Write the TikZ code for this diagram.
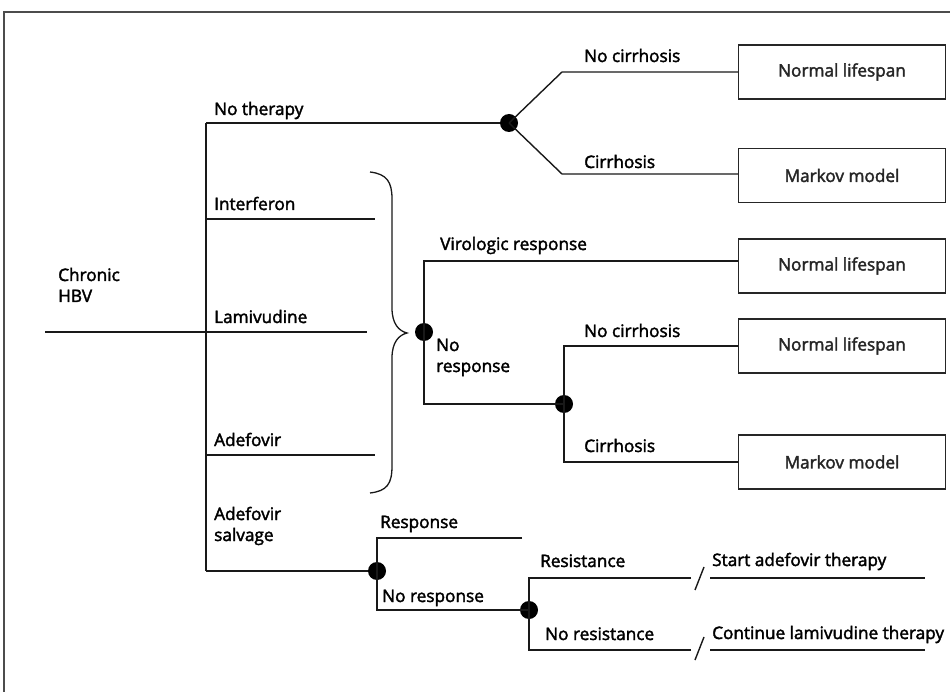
\documentclass[tikz,border=0pt]{standalone}
\usepackage{fontspec}
\setmainfont{Open Sans}[FakeBold=2.2]
\begin{document}
\begin{tikzpicture}[x=1pt,y=-1pt,
  ln/.style={line width=1.4pt,black!90},
  dotn/.style={circle,fill=black,inner sep=0pt,minimum size=18pt},
  outbox/.style={draw,line width=1.4pt,black!85,minimum width=207pt,minimum height=54pt,inner sep=0pt,font=\fontsize{17.2}{21}\selectfont},
  lab/.style={anchor=base west,inner sep=0pt,font=\fontsize{17.2}{21}\selectfont,align=left}]
\useasboundingbox (0,0) rectangle (950,692);
% frame
\draw[line width=1.3pt,black!70] (4,692) -- (4,12) -- (950,12);
% root
\node[lab] (chr) at (58,302) {Chronic\\HBV};
\coordinate (r0) at (45,332);
\coordinate (t0) at (206,332);
\coordinate (ttop) at (206,123);
\coordinate (tbot) at (206,571);
\draw[ln] (r0) -- (t0);
\draw[ln] (ttop) -- (tbot);
% no therapy
\node[dotn] (d1) at (509,123) {};
\draw[ln] (ttop) -- (d1);
\node[lab] (lnt) at (214,115) {No therapy};
\node[outbox] (b1) at (842,72) {Normal lifespan};
\node[outbox] (b2) at (842,175.5) {Markov model};
\coordinate (k1) at (562,72);
\coordinate (k2) at (562,174);
\draw[ln] (d1.center) -- (k1) -- (b1.west |- k1);
\draw[ln] (d1.center) -- (k2) -- (b2.west |- k2);
\node[lab] (lnc1) at (584,62) {No cirrhosis};
\node[lab] (lc1) at (584,168) {Cirrhosis};
% drugs
\coordinate (i0) at (206,219); \coordinate (i1) at (375,219);
\coordinate (l1) at (367,332);
\coordinate (a0) at (206,455); \coordinate (a1) at (375,455);
\draw[ln] (i0) -- (i1);
\draw[ln] (t0) -- (l1);
\draw[ln] (a0) -- (a1);
\node[lab] (lif) at (214,210) {Interferon};
\node[lab] (llm) at (214,323) {Lamivudine};
\node[lab] (lad) at (214,446) {Adefovir};
% brace
\draw[line width=1.3pt,black!90] (370,172) .. controls (387,174) and (392,182) .. (392,199)
  -- (392,308) .. controls (392,324) and (399,331) .. (407,333)
  .. controls (399,335) and (392,342) .. (392,358)
  -- (392,466) .. controls (392,484) and (387,491) .. (370,493);
% response branch
\node[dotn] (d2) at (424,332) {};
\node[outbox] (b3) at (842,266) {Normal lifespan};
\coordinate (v0) at (424,261);
\coordinate (n0) at (424,404);
\node[dotn] (d3) at (564,404) {};
\draw[ln] (b3.west |- v0) -- (v0) -- (n0) -- (d3.center);
\node[lab] (lvr) at (440,250) {Virologic response};
\node[lab] (lnr) at (436,372) {No\\response};
\node[outbox] (b4) at (842,346) {Normal lifespan};
\node[outbox] (b5) at (842,462) {Markov model};
\draw[ln] (b4.west) -- (b4.west -| d3) -- (b5.west -| d3) -- (b5.west);
\node[lab] (lnc2) at (584,337) {No cirrhosis};
\node[lab] (lc2) at (584,452) {Cirrhosis};
% salvage
\node[lab] (las) at (214,541) {Adefovir\\salvage};
\node[dotn] (d4) at (377,571) {};
\draw[ln] (tbot) -- (d4);
\coordinate (s0) at (377,538); \coordinate (s1) at (522,538);
\coordinate (s2) at (377,610);
\node[dotn] (d5) at (529,610) {};
\draw[ln] (s1) -- (s0) -- (s2) -- (d5.center);
\node[lab] (lrs) at (380,528) {Response};
\node[lab] (lnrs) at (382,602) {No response};
\coordinate (q0) at (529,578); \coordinate (q1) at (691,578);
\coordinate (p0) at (529,650); \coordinate (p1) at (691,650);
\draw[ln] (q1) -- (q0) -- (p0) -- (p1);
\node[lab] (lres) at (540,567) {Resistance};
\node[lab] (lnres) at (545,640) {No resistance};
\coordinate (sl1a) at (695,590); \coordinate (sl1b) at (704,567);
\coordinate (sl2a) at (695,660); \coordinate (sl2b) at (704,637);
\draw[ln] (sl1a) -- (sl1b);
\draw[ln] (sl2a) -- (sl2b);
\coordinate (e1a) at (710,578); \coordinate (e1b) at (925,578);
\coordinate (e2a) at (710,650); \coordinate (e2b) at (925,650);
\draw[ln] (e1a) -- (e1b);
\draw[ln] (e2a) -- (e2b);
\node[lab] (lsa) at (712,566) {Start adefovir therapy};
\node[lab] (lcl) at (712,639) {Continue lamivudine therapy};
\end{tikzpicture}
\end{document}
